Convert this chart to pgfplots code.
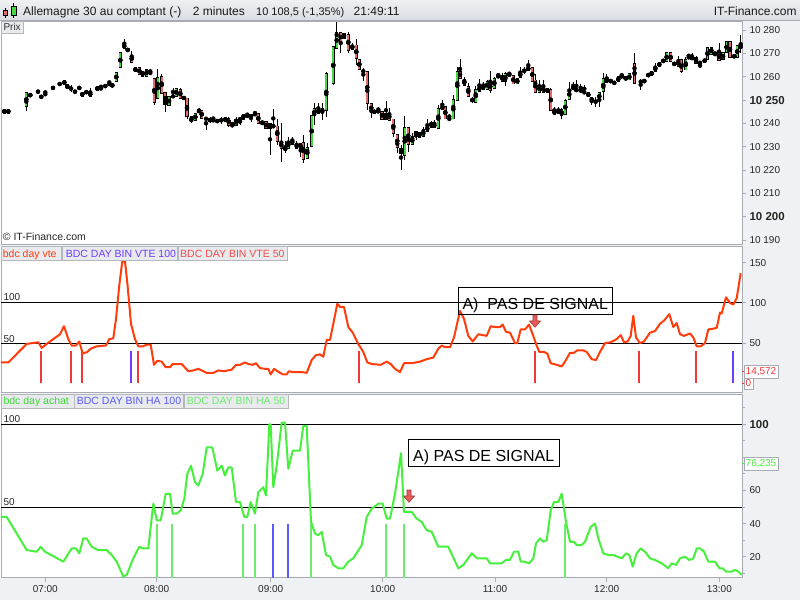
\documentclass[border=0pt]{standalone}
\usepackage{pgfplots}
\pgfplotsset{compat=1.18}
\usepackage{pgfplotstable}
\usepackage{fontspec}
\setmainfont{Liberation Sans}
\definecolor{frame}{RGB}{168,172,178}
\definecolor{panelbg}{RGB}{240,241,244}
\definecolor{hdrtop}{RGB}{238,240,243}
\definecolor{hdrbot}{RGB}{218,221,226}
\definecolor{legbg}{RGB}{232,234,238}
\definecolor{legbd}{RGB}{180,184,190}
\definecolor{cgreen}{RGB}{70,214,70}
\definecolor{cred}{RGB}{226,108,108}
\definecolor{oscred}{RGB}{255,60,10}
\definecolor{oscgreen}{RGB}{70,240,60}
\definecolor{sigred}{RGB}{240,56,56}
\definecolor{sigblue}{RGB}{110,60,255}
\definecolor{sigblue2}{RGB}{90,90,255}
\definecolor{siggreen}{RGB}{110,235,110}
\definecolor{arrowfill}{RGB}{228,92,92}
\definecolor{arrowline}{RGB}{170,50,50}

% ---------- candles: x(px-time) open high low close ----------
\pgfplotstableread{
x o h l c
26.3 10247.2 10253.3 10245.4 10253.3
67.3 10255.0 10256.7 10255.0 10256.7
90.3 10251.6 10255.0 10251.6 10253.4
97.3 10254.2 10255.7 10254.2 10255.7
116.3 10257.9 10261.9 10257.9 10261.9
120.3 10264.0 10270.2 10264.0 10270.2
124.3 10272.2 10276.2 10272.2 10274.0
142.7 10260.3 10262.4 10260.3 10262.4
146.7 10260.3 10263.3 10260.3 10263.3
157.7 10250.6 10263.2 10250.6 10259.7
169.0 10247.6 10251.6 10247.6 10251.6
176.3 10251.7 10255.0 10251.7 10255.0
195.3 10241.2 10244.3 10241.2 10244.3
199.0 10244.6 10246.4 10244.6 10246.0
225.3 10240.7 10242.6 10240.7 10242.6
236.0 10239.3 10242.9 10239.3 10241.7
243.3 10241.7 10243.9 10241.7 10243.9
251.0 10242.2 10243.9 10240.7 10243.9
262.3 10239.7 10241.0 10239.3 10241.0
270.0 10237.9 10240.0 10226.4 10240.0
285.3 10228.2 10232.4 10227.2 10230.0
288.3 10229.3 10234.3 10229.3 10232.4
300.7 10228.9 10231.4 10225.4 10231.4
307.3 10225.0 10231.4 10225.0 10229.7
311.7 10230.0 10243.6 10230.0 10243.3
314.3 10243.3 10248.6 10239.3 10246.4
322.3 10244.7 10248.6 10241.4 10246.4
326.3 10245.7 10262.2 10242.9 10261.2
333.3 10257.2 10272.9 10256.4 10272.9
336.7 10272.2 10283.6 10272.2 10279.0
344.0 10276.4 10278.6 10276.4 10278.6
352.3 10271.7 10274.3 10271.7 10273.6
386.0 10241.7 10249.6 10241.7 10244.3
404.7 10226.4 10243.2 10224.3 10238.3
412.3 10231.1 10235.7 10231.1 10234.3
416.0 10234.3 10236.7 10232.9 10236.7
423.3 10234.3 10238.6 10234.3 10237.2
427.3 10236.7 10241.7 10236.7 10238.9
431.3 10238.3 10241.2 10238.3 10240.4
438.3 10237.9 10247.9 10237.9 10246.4
442.3 10246.0 10250.0 10246.0 10247.4
453.3 10241.9 10252.2 10241.9 10250.3
457.3 10250.0 10264.3 10250.0 10262.4
475.7 10248.9 10256.0 10248.9 10254.6
479.3 10253.6 10258.9 10253.6 10256.0
483.3 10254.6 10257.9 10254.6 10256.4
487.3 10254.6 10258.6 10254.6 10258.1
494.3 10255.0 10260.0 10255.0 10259.3
498.3 10259.7 10261.7 10259.7 10260.7
505.3 10258.1 10262.2 10256.0 10261.2
517.3 10256.9 10259.3 10256.9 10259.3
520.3 10259.6 10264.0 10259.6 10262.2
528.3 10262.6 10267.2 10262.6 10264.3
539.3 10253.3 10258.6 10253.3 10256.4
547.3 10253.3 10255.0 10253.3 10255.0
558.3 10244.3 10246.9 10244.3 10245.7
565.3 10243.9 10250.3 10243.9 10250.0
569.3 10250.3 10257.9 10250.3 10254.6
599.3 10250.0 10253.2 10247.0 10253.2
603.3 10253.6 10261.4 10250.0 10259.3
606.7 10257.4 10261.2 10257.4 10259.3
618.3 10257.9 10260.0 10257.9 10260.0
621.7 10259.7 10261.7 10259.7 10260.7
629.3 10258.6 10261.2 10258.6 10261.2
644.3 10257.4 10258.9 10257.4 10258.9
648.3 10260.0 10261.4 10260.0 10261.4
651.7 10260.7 10262.2 10260.7 10262.2
655.3 10262.2 10265.7 10262.2 10264.6
659.3 10264.3 10266.2 10264.3 10266.2
663.3 10266.4 10267.2 10266.4 10267.2
666.7 10266.4 10270.7 10266.4 10270.3
678.3 10264.3 10268.9 10264.3 10267.2
685.7 10262.9 10268.6 10262.9 10267.4
692.0 10267.4 10270.0 10267.4 10268.6
704.7 10266.4 10267.4 10266.4 10267.4
707.5 10267.2 10272.9 10267.2 10272.6
711.3 10269.7 10272.9 10269.7 10272.6
723.0 10267.2 10270.4 10267.2 10270.4
726.5 10270.4 10275.0 10270.4 10275.0
737.3 10268.3 10273.6 10268.3 10273.2
}\greenC

\pgfplotstableread{
x o h l c
4.3 10246.0 10246.0 10244.3 10244.3
8.3 10246.0 10246.0 10244.3 10244.3
30.3 10252.6 10252.6 10251.6 10251.6
64.3 10258.4 10258.4 10256.7 10256.7
82.3 10253.4 10253.4 10251.6 10251.6
112.3 10256.7 10256.7 10255.9 10255.9
127.7 10272.3 10272.3 10270.7 10270.7
131.7 10269.3 10271.2 10266.2 10266.2
135.3 10264.0 10264.0 10262.2 10262.2
139.3 10264.0 10264.0 10261.0 10261.0
154.3 10259.4 10259.4 10247.9 10249.0
161.7 10260.3 10261.2 10252.9 10252.9
165.0 10253.4 10253.4 10245.0 10248.2
180.3 10254.6 10255.3 10250.6 10250.6
187.0 10250.9 10250.9 10241.9 10242.9
191.3 10242.9 10242.9 10240.0 10240.7
201.7 10245.7 10245.7 10242.2 10242.2
210.0 10241.9 10242.9 10240.0 10241.0
228.7 10242.2 10242.9 10238.6 10239.3
240.0 10242.2 10242.2 10239.3 10241.4
258.3 10244.3 10244.3 10240.0 10240.0
266.0 10240.7 10240.7 10237.9 10237.9
273.3 10239.3 10246.0 10238.3 10238.3
277.3 10238.9 10241.7 10230.7 10232.2
281.3 10232.2 10240.0 10223.6 10229.3
292.3 10232.9 10234.3 10231.1 10231.1
296.7 10231.4 10232.4 10229.3 10229.3
303.3 10231.9 10235.0 10222.9 10224.7
318.3 10246.0 10248.6 10244.3 10244.3
340.7 10279.0 10279.0 10270.0 10275.0
348.3 10278.3 10279.3 10270.0 10271.4
356.3 10273.6 10276.2 10265.0 10267.9
359.3 10267.4 10267.4 10263.2 10263.2
367.3 10262.4 10262.4 10245.7 10248.6
371.3 10248.6 10248.6 10242.2 10244.7
374.3 10245.7 10245.7 10244.3 10244.3
378.3 10245.7 10247.2 10244.7 10244.7
382.0 10245.3 10245.3 10241.7 10241.7
389.3 10244.3 10246.4 10241.4 10241.4
393.3 10241.9 10241.9 10234.3 10235.7
397.3 10235.4 10235.4 10227.2 10229.6
401.0 10229.3 10230.7 10220.0 10227.2
408.3 10238.3 10238.3 10227.9 10231.1
419.3 10236.0 10236.0 10234.0 10234.0
434.3 10240.0 10241.4 10238.3 10238.3
445.3 10247.4 10247.4 10241.9 10241.9
460.0 10262.4 10267.4 10259.3 10259.3
464.3 10258.9 10260.0 10256.2 10256.2
468.3 10256.0 10257.2 10251.4 10251.4
472.3 10250.3 10251.4 10248.6 10249.7
490.3 10257.4 10262.6 10253.2 10254.3
502.3 10260.7 10261.4 10257.9 10257.9
509.3 10261.4 10262.2 10260.4 10260.4
513.3 10260.4 10260.7 10256.9 10256.9
532.3 10264.0 10264.0 10257.9 10257.9
535.3 10258.6 10261.0 10253.3 10253.3
543.3 10256.0 10258.6 10253.2 10253.2
550.7 10254.6 10255.0 10245.4 10245.4
554.3 10245.7 10247.2 10244.0 10244.0
561.7 10246.0 10246.7 10241.7 10243.3
573.3 10255.7 10257.6 10254.7 10254.7
576.3 10255.0 10258.6 10253.6 10253.6
580.7 10254.6 10256.9 10253.6 10253.6
588.3 10253.2 10253.2 10251.4 10251.4
591.7 10251.2 10251.2 10247.9 10249.3
610.7 10258.9 10258.9 10257.4 10257.4
625.7 10260.0 10260.0 10258.6 10258.6
634.5 10265.7 10270.0 10257.2 10257.2
670.7 10270.3 10270.3 10266.4 10266.4
674.3 10266.0 10266.0 10265.0 10265.0
681.3 10267.2 10267.2 10261.4 10262.2
696.0 10268.3 10268.9 10265.7 10265.7
719.0 10270.4 10274.6 10266.9 10266.9
730.0 10275.0 10275.0 10268.3 10268.3
734.3 10269.3 10269.3 10268.3 10268.3
740.7 10273.6 10277.9 10270.0 10272.2
}\redC

\pgfplotstableread{
x p h l
38.0 10253.6 10253.6 10253.6
41.3 10251.4 10251.4 10251.4
45.3 10253.3 10253.3 10251.7
53.0 10255.2 10255.2 10255.2
59.7 10256.9 10256.9 10256.9
71.0 10255.0 10256.4 10253.3
75.0 10253.6 10253.6 10253.6
79.3 10255.2 10255.2 10255.2
86.3 10253.4 10253.4 10253.4
101.0 10255.7 10255.7 10254.2
105.3 10256.0 10256.0 10256.0
109.3 10257.6 10257.6 10256.0
150.3 10261.6 10263.3 10261.3
173.0 10251.6 10255.3 10251.6
184.0 10250.9 10250.9 10250.9
206.0 10242.0 10242.9 10237.2
213.3 10241.3 10242.9 10241.3
217.3 10241.0 10241.0 10241.0
221.3 10241.4 10242.9 10239.7
232.3 10239.7 10239.7 10238.6
247.3 10243.2 10244.3 10243.2
255.0 10243.9 10245.0 10243.9
363.3 10262.4 10263.6 10258.3
449.3 10241.9 10244.0 10241.9
524.3 10262.6 10264.0 10261.2
584.3 10253.3 10256.4 10253.3
595.7 10249.4 10251.4 10247.2
614.3 10257.4 10257.4 10257.4
640.7 10257.9 10258.9 10254.3
688.7 10268.3 10269.7 10268.3
700.0 10266.0 10266.0 10263.6
715.0 10269.7 10270.4 10269.7
}\dojiC

% ---------- bdc day vte ----------
\pgfplotstableread{
x y
1 26
8.3 26
26.7 49
38.3 51
41.7 44
46.7 49
60 61
64 71
68.3 55
71.7 47
76 47
79.3 52
82.7 37
87.3 39
90.7 43
96.7 46
106 47
109.3 55
113.3 56
116 80
119.3 122
122.3 152
125 152
127.7 120
131 74
135 55
138.3 46
142.7 46
146.7 48
150.7 48
154 23
157.3 28
161.7 27
165.7 20
170 20
172.7 24
181.7 24
188.3 15
193.3 16
198.3 18
206.7 13
213.3 13
218.3 16
224 15
231.7 17
236 23
240 23
245 26
248.3 24
252.7 23
256 25
260 19
265 18
268.3 18
270.7 11
274 18
280 13
283.3 11
286.7 11
288.7 15
293.3 14
301.7 14
306.7 13
311.7 29
316 35
320 36
323.3 33
326.7 54
330 54
333.3 74
337.3 99
340 95
344 95
348.3 70
352.7 63
358.3 49
363.3 39
367.3 26
371.7 24
380.7 23
386.7 27
390.7 24
395 18
400 14
404 25
411.7 25
420 27
426.7 30
433.3 32
438.3 43
441.7 47
445 45
450 45
454 57
456.7 72
460 90
464 80
468.3 59
472.7 52
478.3 61
482.7 60
486.7 59
490.7 71
495 70
500 70
502.7 73
506 64
510 63
515 50
517.3 50
520.7 67
525 67
529 73
533.3 59
536 49
539.3 39
544 39
547.3 37
550.7 25
556.7 23
561.7 21
565 27
570 38
574 38
577.3 41
583.3 41
586.7 39
591.7 30
596 29
600 39
605 50
610.7 51
616.7 55
620.7 60
624 51
627.7 52
630.7 59
633.3 84
636 57
640 50
644 52
650 63
655 65
660 74
664 78
669.3 86
673.3 70
676.7 75
680 61
684 59
690 62
693.3 57
696.7 46
700.7 46
705 50
708.3 67
713.3 68
716.7 69
720 88
721.7 87
726 107
730 100
733.3 98
736.7 106
740.7 137
}\vteOsc

% ---------- bdc day achat ----------
\pgfplotstableread{
x y
1 44
6.7 44
26.7 24
36.7 23
40.7 26
45 23
63.3 17
71.7 25
76 25
79.3 22
83.3 31
86.7 31
91.7 26
98.3 24
106.7 24
111.7 21
116.7 17
123.3 8
126.7 9
133.3 19
139.3 26
142.7 25
148.3 25
153.3 52
156.7 42
160.7 42
165.7 58
170 58
172.7 46
176.7 46
180.7 48
184.3 55
187.3 70
191 75
195 65
198.3 63
202.7 70
206.7 86
212.3 86
217.3 72
221.7 75
225 69
228.3 74
231.7 74
236 53
240 53
244.3 44
247.3 44
250.7 53
255 46
258.3 59
263.3 62
266 57
269.3 100
270.7 100
273.3 62
276.7 75
281.7 101
285 101
288.3 73
292.7 84
300 84
303.3 99
306.7 99
311 41
315 34
318.3 33
321.7 35
326 21
330 20
333.3 15
338.3 13
343.3 13
348.3 17
353.3 19
361.7 27
366.7 44
371.7 49
378.3 52
382.7 52
386.7 43
390 43
395 58
401 82.5
404 47
411.7 47
416.7 43
421.7 41
426.7 36
431.7 35
438.3 26
443.3 26
448.3 26
458.3 13
463.3 15
471.7 22
477.3 19
486.7 19
490 16
501.7 16
506 18
510 18
514 23
518.3 23
520.7 17
524 17
529.3 16
533.3 19
536 28
540 31
543.3 29
546.7 30
550.7 48
554 53
558.3 53
561.7 58
566 41
570 29
574 29
576.7 27
581.7 27
585 29
590.7 38
595 40
598.3 31
603.3 22
608.3 21
613.3 21
621.7 19
626 22
629.3 21
632.7 14
636.7 22
640.7 25
645 23
650 19
655 18
661.7 16
668.3 13
671.7 16
676 15
680 19
685 20
689.3 18
693.3 19
696.7 25
700 25
704 23
708.3 17
715 17
719.3 13
722.7 13
726 11
731.7 11
735 12
738.3 11
741.7 9
}\achatOsc

\pgfplotstableread{
x y
40.7 40
70.7 40
81.7 40
138.3 40
358.7 40
535.0 40
639.3 40
695.7 40
}\sigVteFifty
\pgfplotstableread{
x y
130.7 40
733.3 40
}\sigVteHundred
\pgfplotstableread{
x y
156.7 40
171.7 40
242.7 40
255.0 40
311.0 40
386.0 40
404.0 40
564.7 40
}\sigHaFifty
\pgfplotstableread{
x y
272.7 40
288.0 40
}\sigHaHundred

\pgfplotsset{
  panel/.style={scale only axis, anchor=south west, xmin=1, xmax=742,
    axis line style={draw=frame, line width=0.9pt},
    axis background/.style={fill=white},
    tick align=outside, ytick pos=right, yticklabel pos=right,
    major tick length=4pt, minor tick length=3pt,
    every tick/.style={draw=frame, line width=0.9pt},
    yticklabel style={font=\fontsize{10}{12}\selectfont, anchor=west, text=black!85},
    scaled y ticks=false, scaled x ticks=false},
  wicks/.style={only marks, mark=none, forget plot, error bars/.cd, y dir=both, y explicit, error mark=none, error bar style={draw=black, line width=0.9pt}},
  bodyout/.style={only marks, mark=none, forget plot, error bars/.cd, y dir=both, y explicit, error mark=none, error bar style={draw=black, line width=3.3pt}},
  bodyin/.style={only marks, mark=none, forget plot, error bars/.cd, y dir=both, y explicit, error mark=none, error bar style={draw=#1, line width=1.7pt}},
}

\begin{document}
\begin{tikzpicture}[x=1pt,y=1pt]
\useasboundingbox (0,0) rectangle (800,600);
\fill[white] (0,0) rectangle (800,600);
\fill[panelbg] (742,0) rectangle (800,580);
\fill[panelbg] (0,0) rectangle (800,22.3);
\fill[panelbg] (0,353) rectangle (742,356);
\fill[panelbg] (0,205.7) rectangle (742,208);
\shade[top color=hdrtop, bottom color=hdrbot] (0,580) rectangle (800,600);
\draw[frame, line width=0.8pt] (0,580) -- (800,580);

% ================= TOP: price candles =================
\begin{axis}[panel, at={(1pt,356pt)}, width=741pt, height=223pt,
  ymin=10188.3, ymax=10283.9, xtick=\empty,
  ytick={10190,10200,10210,10220,10230,10240,10250,10260,10270,10280},
  yticklabels={10 190,{\fontsize{11.5}{12}\selectfont\bfseries 10 200},10 210,10 220,10 230,10 240,{\fontsize{11.5}{12}\selectfont\bfseries 10 250},10 260,10 270,10 280}]
\addplot[wicks] table[x=x, y expr={\thisrow{l}+(\thisrow{h}-\thisrow{l})/2}, y error expr={(\thisrow{h}-\thisrow{l})/2}] {\greenC};
\addplot[wicks] table[x=x, y expr={\thisrow{l}+(\thisrow{h}-\thisrow{l})/2}, y error expr={(\thisrow{h}-\thisrow{l})/2}] {\redC};
\addplot[wicks] table[x=x, y expr={\thisrow{l}+(\thisrow{h}-\thisrow{l})/2}, y error expr={(\thisrow{h}-\thisrow{l})/2}] {\dojiC};
\addplot[bodyout] table[x=x, y expr={\thisrow{o}+(\thisrow{c}-\thisrow{o})/2}, y error expr={abs(\thisrow{c}-\thisrow{o})/2+0.2}] {\greenC};
\addplot[bodyout] table[x=x, y expr={\thisrow{c}+(\thisrow{o}-\thisrow{c})/2}, y error expr={abs(\thisrow{o}-\thisrow{c})/2+0.2}] {\redC};
\addplot[bodyout] table[x=x, y=p, y error expr={0.2}] {\dojiC};
\addplot[bodyin=cgreen] table[x=x, y expr={\thisrow{o}+(\thisrow{c}-\thisrow{o})/2}, y error expr={max(abs(\thisrow{c}-\thisrow{o})/2-0.2,0)}] {\greenC};
\addplot[bodyin=cred] table[x=x, y expr={\thisrow{c}+(\thisrow{o}-\thisrow{c})/2}, y error expr={max(abs(\thisrow{o}-\thisrow{c})/2-0.2,0)}] {\redC};
\end{axis}

% ================= MIDDLE: bdc day vte =================
\begin{axis}[panel, at={(1pt,208pt)}, width=741pt, height=145.3pt,
  ymin=-10.8, ymax=169.9, xtick=\empty,
  ytick={50,100,150}, yticklabels={50,100,150},
  extra y ticks={0,14.572}, extra y tick labels={0,14{,}572},
  extra y tick style={every tick/.style={draw=sigred, line width=0.9pt},
    yticklabel style={draw=frame, fill=white, text=sigred, inner xsep=1.5pt, inner ysep=2pt, xshift=-2pt}}]
\addplot[black, line width=1pt, forget plot] coordinates {(1,100) (742,100)};
\addplot[black, line width=1pt, forget plot] coordinates {(1,50) (742,50)};
\addplot[ycomb, sigred, line width=1.8pt, mark=none] table[x=x,y=y] {\sigVteFifty};
\addplot[ycomb, sigblue, line width=1.8pt, mark=none] table[x=x,y=y] {\sigVteHundred};
\addplot[oscred, line width=2pt, line join=round, mark=none] table[x=x,y=y] {\vteOsc};
\end{axis}

% ================= BOTTOM: bdc day achat =================
\begin{axis}[panel, at={(1pt,22.3pt)}, width=741pt, height=183.4pt,
  ymin=7.3, ymax=118.1,
  xtick={45.3,156.7,270.7,382.7,495,606.7,719.3},
  xticklabels={07:00,08:00,09:00,10:00,11:00,12:00,13:00},
  xtick pos=bottom, xticklabel pos=bottom,
  xticklabel style={font=\fontsize{10}{12}\selectfont, text=black!85},
  ytick={20,40,60,80,100}, yticklabels={20,40,60,{},{\fontsize{11.5}{12}\selectfont\bfseries 100}},
  minor ytick={10,30,50,70,90,110},
  extra y ticks={76.235}, extra y tick labels={76{,}235},
  extra y tick style={every tick/.style={draw=oscgreen, line width=0.9pt},
    yticklabel style={draw=frame, fill=white, text=oscgreen, inner xsep=1.5pt, inner ysep=2.5pt, xshift=-2pt}}]
\addplot[black, line width=1pt, forget plot] coordinates {(1,100) (742,100)};
\addplot[black, line width=1pt, forget plot] coordinates {(1,50) (742,50)};
\addplot[ycomb, siggreen, line width=1.8pt, mark=none] table[x=x,y=y] {\sigHaFifty};
\addplot[ycomb, sigblue2, line width=1.8pt, mark=none] table[x=x,y=y] {\sigHaHundred};
\addplot[oscgreen, line width=2pt, line join=round, mark=none] table[x=x,y=y] {\achatOsc};
\end{axis}

% ================= header =================
\draw[black, line width=0.6pt] (5.3,582) -- (5.3,591.7);
\filldraw[fill=cred, draw=black, line width=0.6pt] (3.5,584.3) rectangle (7.3,590);
\draw[black, line width=0.6pt] (13.3,581.7) -- (13.3,597.3);
\filldraw[fill=cgreen, draw=black, line width=0.6pt] (11,585) rectangle (15.8,594);
\begin{scope}[every node/.style={font=\fontsize{12}{14}\selectfont, inner sep=0pt, text=black!90}]
\node[anchor=base west] at (23,584) {Allemagne 30 au comptant (-)};
\node[anchor=base west] at (192.7,584) {2 minutes};
\node[anchor=base west, font=\fontsize{11}{14}\selectfont] at (256,584) {10 108,5 (-1,35\%)};
\node[anchor=base west] at (353.5,584) {21:49:11};
\node[anchor=base east] at (796.7,584) {IT-Finance.com};
\end{scope}

% ================= panel labels =================
\filldraw[fill=legbg, draw=legbd, line width=0.6pt] (1,566.7) rectangle (23.3,579);
\node[anchor=base west, inner sep=0pt, font=\fontsize{10}{12}\selectfont, text=black!80] at (3.3,569) {Prix};
\node[anchor=base west, inner sep=0pt, font=\fontsize{10.5}{12}\selectfont, text=black!85] at (2.7,359.3) {© IT-Finance.com};

\begin{scope}[every node/.style={anchor=base west, inner sep=0pt, font=\fontsize{10.5}{12}\selectfont}]
\filldraw[fill=legbg, draw=legbd, line width=0.6pt] (1,339.3) rectangle (61.5,353.3);
\filldraw[fill=legbg, draw=legbd, line width=0.6pt] (62,339.3) rectangle (177.5,353.3);
\filldraw[fill=legbg, draw=legbd, line width=0.6pt] (178,339.3) rectangle (287.5,353.3);
\node[text=oscred] at (2.7,342.5) {bdc day vte};
\node[text=sigblue] at (65.7,342.5) {BDC DAY BIN VTE 100};
\node[text=sigred!90!white] at (180,342.5) {BDC DAY BIN VTE 50};
\filldraw[fill=legbg, draw=legbd, line width=0.6pt] (1,192) rectangle (74,205.7);
\filldraw[fill=legbg, draw=legbd, line width=0.6pt] (74.5,192) rectangle (183.5,205.7);
\filldraw[fill=legbg, draw=legbd, line width=0.6pt] (184.5,192) rectangle (288.5,205.7);
\node[text=oscgreen!90!black] at (3.3,195) {bdc day achat};
\node[text=sigblue2] at (76.7,195) {BDC DAY BIN HA 100};
\node[text=siggreen] at (186.7,195) {BDC DAY BIN HA 50};
\end{scope}

\begin{scope}[every node/.style={anchor=base west, inner sep=0pt, font=\fontsize{10}{12}\selectfont, text=black!85}]
\node at (3.3,299) {100};
\node at (3.3,257.7) {50};
\node at (3.3,177.3) {100};
\node at (3.3,95) {50};
\end{scope}

% ================= annotations =================
\draw[black, line width=1pt] (458.3,285.7) rectangle (612.7,312.3);
\node[anchor=base, inner sep=0pt, font=\fontsize{16}{18}\selectfont] at (535.3,290.9) {A)\ \ PAS DE SIGNAL};
\draw[black, line width=1pt] (408.3,134) rectangle (559.3,160.7);
\node[anchor=base, inner sep=0pt, font=\fontsize{16}{18}\selectfont] at (483.7,138.6) {A) PAS DE SIGNAL};
\filldraw[fill=arrowfill, draw=arrowline, line width=0.6pt]
  (533,285) -- (537,285) -- (537,279) -- (540.5,279) -- (535,272.7) -- (529.5,279) -- (533,279) -- cycle;
\filldraw[fill=arrowfill, draw=arrowline, line width=0.6pt]
  (407,110) -- (411,110) -- (411,104) -- (414.5,104) -- (409,97.7) -- (403.5,104) -- (407,104) -- cycle;
\end{tikzpicture}
\end{document}
